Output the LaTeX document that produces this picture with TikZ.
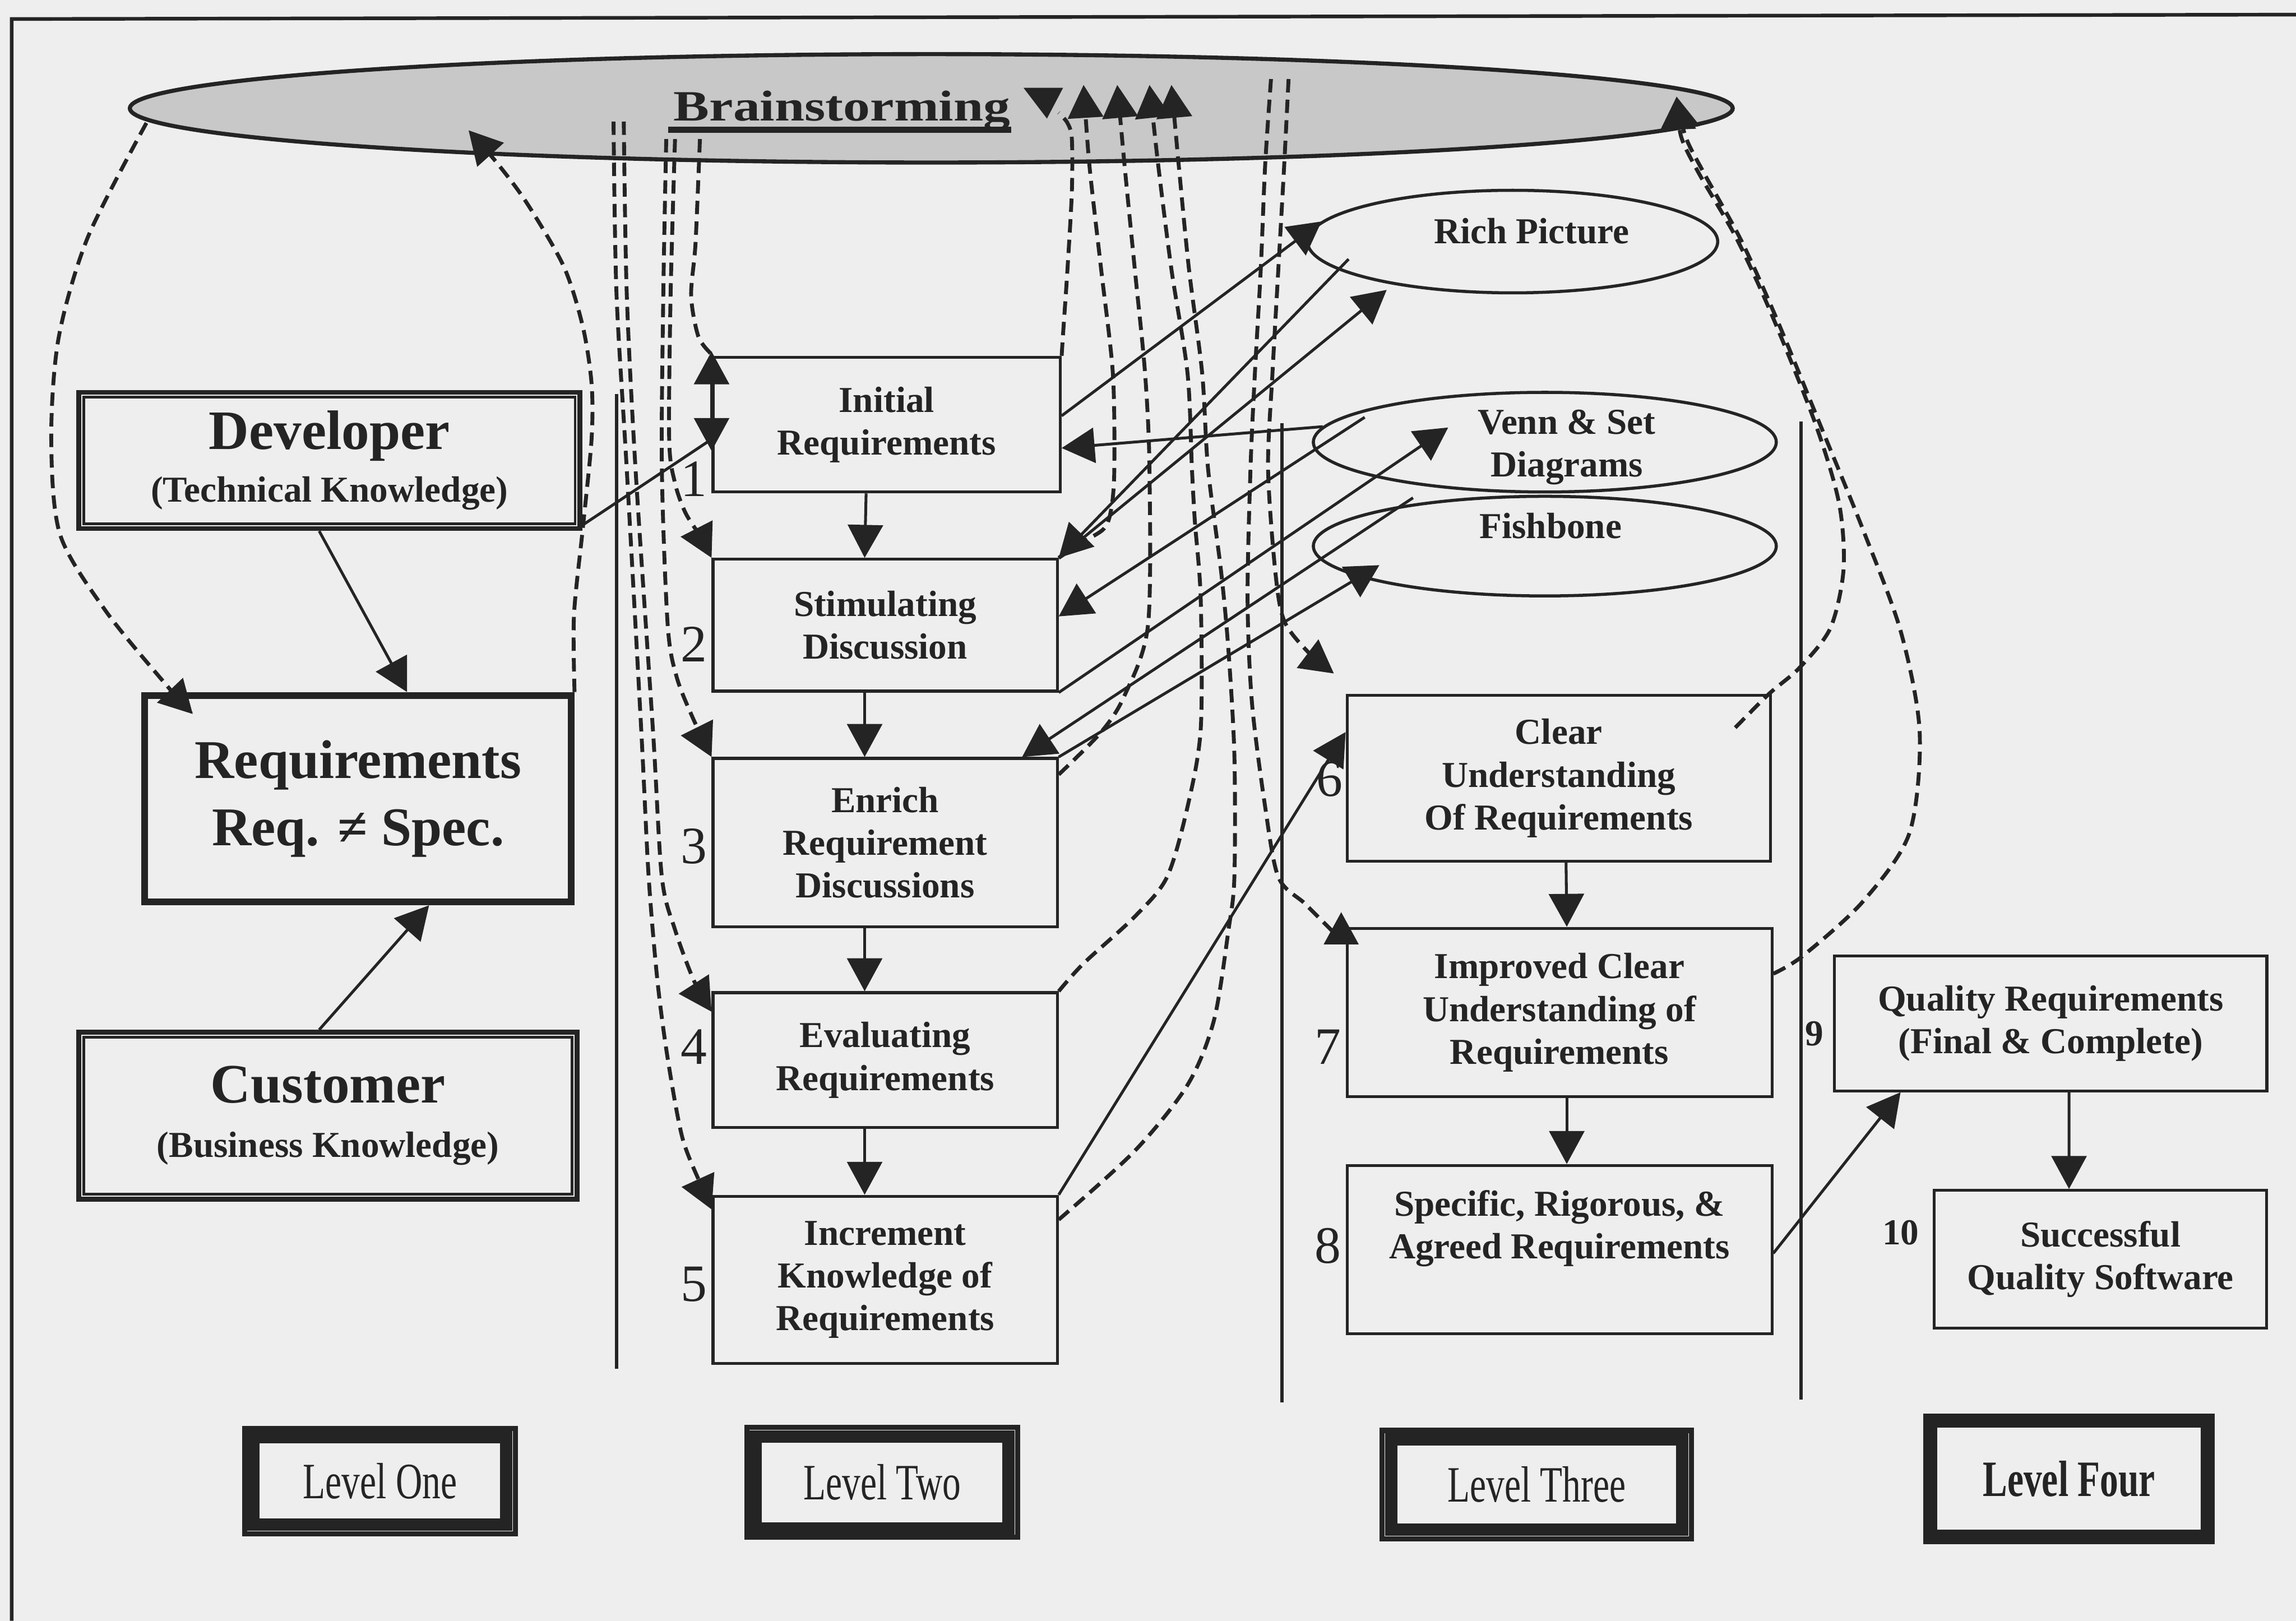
\documentclass[tikz,border=0pt]{standalone}
\usepackage{fontspec}
\setmainfont{Liberation Serif}
\newfontfamily\widefont[FakeStretch=1.24]{Liberation Serif}
\newfontfamily\narrowfont[FakeStretch=0.72]{Liberation Serif}
\usetikzlibrary{arrows.meta,calc,shapes.geometric}

\definecolor{ink}{HTML}{242424}
\definecolor{paper}{HTML}{EEEEEE}
\definecolor{cloud}{HTML}{C8C8C8}

\tikzset{
  boxfont/.style={font=\fontsize{7.1}{8.3}\selectfont\bfseries},
  stepbox/.style={draw=ink, line width=0.55pt, rectangle, inner sep=0pt, align=center, text=ink, boxfont},
  toolshape/.style={draw=ink, line width=0.6pt, ellipse, inner sep=0pt},
  tooltext/.style={text=ink, inner sep=0pt, align=center, boxfont},
  numlabel/.style={text=ink, inner sep=0pt, font=\fontsize{10.2}{12}\selectfont},
  smallnum/.style={text=ink, inner sep=0pt, font=\fontsize{7.1}{8}\selectfont\bfseries},
  actorbox/.style={draw=ink, line width=0.95pt, rectangle, inner sep=0pt, align=center, text=ink},
  levelbox/.style={draw=ink, line width=1pt, rectangle, inner sep=0pt, text=ink, font=\narrowfont\fontsize{9.9}{11}\selectfont},
  innerframe/.style={draw=ink, line width=0.5pt},
  link/.style={draw=ink, line width=0.55pt, -{Triangle[length=6.4pt,width=6.8pt]}},
  plainlink/.style={draw=ink, line width=0.55pt},
  twoway/.style={draw=ink, line width=0.55pt, {Triangle[length=6.4pt,width=6.8pt]}-{Triangle[length=6.4pt,width=6.8pt]}},
  dlink/.style={draw=ink, line width=0.75pt, dash pattern=on 2.6pt off 1.4pt, -{Triangle[length=6.4pt,width=6.8pt]}},
  dplain/.style={draw=ink, line width=0.75pt, dash pattern=on 2.6pt off 1.4pt},
  separator/.style={draw=ink, line width=0.6pt},
}

\begin{document}
\begin{tikzpicture}[x=0.01cm, y=-0.01cm]
\useasboundingbox (0,0) rectangle (1568,1107);
\fill[paper] (0,0) rectangle (1568,1107);
% page frame: left and top edges
\draw[ink, line width=0.7pt] (8,1107) -- (8,13) -- (1568,10);

% ---------- Brainstorming ----------
\node[draw=ink, fill=cloud, line width=0.8pt, ellipse, inner sep=0pt,
      minimum width=10.94cm, minimum height=0.74cm] (bs) at (636,74) {};
\node[text=ink, inner sep=0pt, anchor=base,
      font=\widefont\fontsize{8.4}{10}\selectfont\bfseries] (bst) at (575,82.7) {Brainstorming};
\draw[ink, line width=1.2pt] ($(bst.base west)+(-3,6)$) -- ($(bst.base east)+(0,6)$);

% ---------- column separators ----------
\draw[separator] (421,269) -- (421,935);
\draw[separator] (875.5,289) -- (875.5,958);
\draw[separator] (1230,288) -- (1230,956);

% ---------- Level one ----------
\node[actorbox, minimum width=3.42cm, minimum height=0.93cm,
      font=\fontsize{7.1}{10.2}\selectfont\bfseries] (dev) at (225,314.5)
  {{\fontsize{10.8}{10.2}\selectfont Developer}\\(Technical Knowledge)};
\draw[innerframe] ($(dev.north west)+(5,5)$) rectangle ($(dev.south east)+(-5,-5)$);

\node[draw=ink, line width=1.3pt, rectangle, inner sep=0pt, align=center, text=ink,
      minimum width=2.91cm, minimum height=1.41cm,
      font=\fontsize{10.6}{13.1}\selectfont\bfseries] (req) at (244.5,545.5)
  {Requirements\\Req. ≠ Spec.};

\node[actorbox, minimum width=3.40cm, minimum height=1.14cm,
      font=\fontsize{7.1}{10.5}\selectfont\bfseries] (cus) at (224,762)
  {{\fontsize{10.8}{10.5}\selectfont Customer}\\(Business Knowledge)};
\draw[innerframe] ($(cus.north west)+(5,5)$) rectangle ($(cus.south east)+(-5,-5)$);

% ---------- Level two ----------
\node[stepbox, minimum width=2.37cm, minimum height=0.92cm] (b1) at (605.5,290) {Initial\\Requirements};
\node[stepbox, minimum width=2.35cm, minimum height=0.90cm] (b2) at (604.5,427) {Stimulating\\Discussion};
\node[stepbox, minimum width=2.35cm, minimum height=1.15cm] (b3) at (604.5,575.5) {Enrich\\Requirement\\Discussions};
\node[stepbox, minimum width=2.35cm, minimum height=0.92cm] (b4) at (604.5,724) {Evaluating\\Requirements};
\node[stepbox, minimum width=2.35cm, minimum height=1.14cm] (b5) at (604.5,874) {Increment\\Knowledge of\\Requirements};

\node[numlabel] (n1) at (474,327) {1};
\node[numlabel] (n2) at (474,440) {2};
\node[numlabel] (n3) at (474,578) {3};
\node[numlabel] (n4) at (474,715) {4};
\node[numlabel] (n5) at (474,877) {5};

% ---------- Level three ----------
\node[toolshape, minimum width=2.80cm, minimum height=0.70cm] (rp) at (1033,165) {};
\node[tooltext] (rpt) at (1046,158) {Rich Picture};
\node[toolshape, minimum width=3.16cm, minimum height=0.68cm] (venn) at (1055,302) {};
\node[tooltext] (vnt) at (1070,305.5) {Venn \& Set\\Diagrams};
\node[toolshape, minimum width=3.16cm, minimum height=0.68cm] (fish) at (1055,373) {};
\node[tooltext] (fst) at (1059,359) {Fishbone};

\node[stepbox, minimum width=2.89cm, minimum height=1.13cm] (b6) at (1064.5,531.5) {Clear\\Understanding\\Of Requirements};
\node[stepbox, minimum width=2.90cm, minimum height=1.15cm] (b7) at (1065,691.5) {Improved Clear\\Understanding of\\Requirements};
\node[stepbox, minimum width=2.90cm, minimum height=1.15cm,
      label={[tooltext, yshift=0.145cm]center:{Specific, Rigorous, \&\\Agreed Requirements}}] (b8) at (1065,853.5) {};

\node[numlabel] (n6) at (908,532) {6};
\node[numlabel] (n7) at (907,715) {7};
\node[numlabel] (n8) at (907,851) {8};

% ---------- Level four ----------
\node[stepbox, minimum width=2.95cm, minimum height=0.92cm] (b9) at (1400.5,699) {Quality Requirements\\(Final \& Complete)};
\node[stepbox, minimum width=2.27cm, minimum height=0.94cm] (b10) at (1434.5,860) {Successful\\Quality Software};
\node[smallnum] (n9) at (1239,706) {9};
\node[smallnum] (n10) at (1298,842) {10};

% ---------- level captions ----------
\node[levelbox, minimum width=1.85cm, minimum height=0.72cm] (lv1) at (259.5,1011.5) {Level One};
\draw[ink, line width=2.4pt] ($(lv1.north west)+(8,8)$) rectangle ($(lv1.south east)+(-8,-8)$);
\node[levelbox, minimum width=1.85cm, minimum height=0.75cm] (lv2) at (602.5,1012.5) {Level Two};
\draw[ink, line width=2.4pt] ($(lv2.north west)+(8,8)$) rectangle ($(lv2.south east)+(-8,-8)$);
\node[levelbox, minimum width=2.11cm, minimum height=0.74cm] (lv3) at (1049.5,1014) {Level Three};
\draw[ink, line width=2.4pt] ($(lv3.north west)+(8,8)$) rectangle ($(lv3.south east)+(-8,-8)$);
\node[levelbox, line width=2.6pt, minimum width=1.90cm, minimum height=0.80cm,
      font=\narrowfont\fontsize{9.9}{11}\selectfont\bfseries] (lv4) at (1413,1010) {Level Four};
\draw[ink, line width=1pt] ($(lv4.north west)+(8,8)$) rectangle ($(lv4.south east)+(-8,-8)$);

% ---------- named ends of the free-form connectors ----------
\coordinate (bsL) at ($(bs.center)+(-536,10)$);
\coordinate (bsR) at ($(bs.center)+(-316,15)$);
\coordinate (bsD1) at ($(bs.center)+(-158,21)$);
\coordinate (bsD2) at ($(bs.center)+(-175,21)$);
\coordinate (bsD3) at ($(bs.center)+(-181,21)$);
\coordinate (bsD4) at ($(bs.center)+(-210,9)$);
\coordinate (bsD5) at ($(bs.center)+(-217,9)$);
\coordinate (bsA) at ($(bs.center)+(87,3)$);
\coordinate (bsB) at ($(bs.center)+(104,-16)$);
\coordinate (bsC) at ($(bs.center)+(127,-16)$);
\coordinate (bsDd) at ($(bs.center)+(149,-16)$);
\coordinate (bsE) at ($(bs.center)+(164,-16)$);
\coordinate (bsF) at ($(bs.center)+(244,-20)$);
\coordinate (bsG) at ($(bs.center)+(232,-20)$);
\coordinate (bsH) at ($(bs.center)+(509,-8)$);
\coordinate (reqIn) at ($(req.north west)+(35,15)$);
\coordinate (b3in) at ([yshift=-0.12cm]b3.north east);
\coordinate (b4in) at ([yshift=-0.14cm]b4.north west);
\coordinate (b5in) at ([yshift=-0.10cm]b5.north west);
\coordinate (b5up) at ([yshift=-0.17cm]b5.north east);
\coordinate (b6in) at ($(b6.north west)+(-8,-14)$);
\coordinate (b7in) at ($(b7.north west)+(-6,6)$);
\coordinate (b6out) at ($(b6.north east)+(-25,23)$);
\coordinate (b7out) at ([yshift=-0.32cm]b7.north east);
\coordinate (rpB) at ($(rp.center)+(-112,12)$);
\coordinate (rpC) at ($(rp.center)+(-86,33)$);
\coordinate (vnA) at ($(venn.center)+(-123,-17)$);
\coordinate (vnB) at ($(venn.center)+(-66,-10)$);
\coordinate (fsA) at ($(fish.center)+(-90,-33)$);
\coordinate (fsB) at ($(fish.center)+(-113,13)$);

% ---------- level one connectors ----------
\draw[link] ([xshift=-0.07cm]dev.south) -- ([xshift=0.335cm]req.north);
\draw[link] ([xshift=-0.06cm]cus.north) -- ([xshift=0.485cm]req.south);
\draw[plainlink] ([yshift=0.04cm]dev.south east) -- ([yshift=-0.10cm]b1.west);
\draw[twoway] ([yshift=0.03cm]b1.north west) -- ([yshift=-0.18cm]b1.west);
\draw[dlink] plot[smooth] coordinates {(bsL) (60,162) (40,231) (35,300) (41,365) (72,417) (112,466) (reqIn)};
\draw[dlink] plot[smooth] coordinates {(req.north east) (392,420) (398,361) (404,300) (404,262) (398,223) (385,182) (360,139) (340,112) (bsR)};

% ---------- level two flow ----------
\draw[link] ([xshift=-0.14cm]b1.south) -- ([xshift=-0.14cm]b2.north);
\draw[link] ([xshift=-0.14cm]b2.south) -- ([xshift=-0.14cm]b3.north);
\draw[link] ([xshift=-0.14cm]b3.south) -- ([xshift=-0.14cm]b4.north);
\draw[link] ([xshift=-0.14cm]b4.south) -- ([xshift=-0.14cm]b5.north);

% brainstorming down to the steps
\draw[dplain] plot[smooth] coordinates {(bsD1) (475,166) (472,202) (477,230) (486,242)};
\draw[dlink] plot[smooth] coordinates {(bsD2) (458,200) (457,300) (461,330) (468,350) (478,366) (b2.north west)};
\draw[dlink] plot[smooth] coordinates {(bsD3) (453,200) (452,320) (456,427) (462,462) (473,490) (b3.north west)};
\draw[dlink] plot[smooth] coordinates {(bsD4) (428,200) (434,320) (446,500) (452,599) (461,635) (474,670) (b4in)};
\draw[dlink] plot[smooth] coordinates {(bsD5) (421,200) (428,320) (438,500) (443,599) (449,670) (456,723) (466,777) (479,810) (b5in)};

% steps back up to brainstorming
\draw[dplain] plot[smooth] coordinates {(b1.north east) (726,228) (729,184) (732,131) (732,95) (729,84) (bsA)};
\fill[ink] ($(bs.center)+(63,-14)$) -- ($(bs.center)+(90,-14)$) -- ($(bs.center)+(79,7)$) -- cycle;
\draw[dlink] plot[smooth] coordinates {(b2.north east) (738,371) (754,361) (759,347) (761,320) (760,255) (752,184) (744,113) (bsB)};
\draw[dlink] plot[smooth] coordinates {(b3in) (752,500) (768,475) (784,427) (785,320) (782,255) (775,184) (768,113) (bsC)};
\draw[dlink] plot[smooth] coordinates {(b4.north east) (740,658) (775,626) (797,599) (811,551) (820,498) (820,409) (816,356) (814,320) (811,255) (800,184) (791,113) (bsDd)};
\draw[dlink] plot[smooth] coordinates {(b5up) (775,786) (811,741) (829,697) (839,635) (843,599) (843,516) (839,445) (834,391) (825,320) (821,255) (812,184) (805,113) (bsE)};

% ---------- links with the analysis tools ----------
\draw[link] ([yshift=0.06cm]b1.east) -- (rp.174);
\draw[link] (rpB) -- (b2.north east);
\draw[link] (b2.north east) -- (rpC);
\draw[link] (venn.176) -- ([yshift=-0.16cm]b1.east);
\draw[link] (vnA) -- ([yshift=0.06cm]b2.east);
\draw[link] (b2.south east) -- (vnB);
\draw[link] (fsA) -- ([xshift=-0.25cm]b3.north east);
\draw[link] (b3.north east) -- (fsB);
\draw[link] (b5.north east) -- ([yshift=0.315cm]b6.west);

% ---------- level three flow ----------
\draw[link] ([xshift=0.05cm]b6.south) -- ([xshift=0.05cm]b7.north);
\draw[link] ([xshift=0.05cm]b7.south) -- ([xshift=0.05cm]b8.north);
\draw[dlink] plot[smooth] coordinates {(bsF) (877,113) (873,184) (869,255) (866,320) (871,391) (877,424) (893,445) (b6in)};
\draw[dplain] plot[smooth] coordinates {(bsG) (864,113) (861,184) (857,255) (854,320) (852,409) (855,480) (864,551) (873,599) (891,617) (905,631) (b7in)};
\fill[ink] ($(b7.north west)+(-15,12)$) -- ($(b7.north west)+(9,12)$) -- ($(b7.north west)+(-3,-10)$) -- cycle;
\draw[dlink] plot[smooth] coordinates {(b6out) (1208,474) (1229,456) (1250,429) (1259,389) (1256,344) (1240,290) (1210,215) (1186,163) (1160,118) (1148,93) (bsH)};
\draw[dlink] plot[smooth] coordinates {(b7out) (1231,653) (1272,616) (1304,569) (1311,500) (1298,431) (1272,361) (1243,290) (1213,217) (1189,164) (1163,117) (1151,93) (bsH)};

% ---------- level four ----------
\draw[link] ([yshift=-0.025cm]b8.east) -- ([xshift=-1.025cm]b9.south);
\draw[link] ([xshift=0.125cm]b9.south) -- ([xshift=-0.215cm]b10.north);
\end{tikzpicture}
\end{document}
